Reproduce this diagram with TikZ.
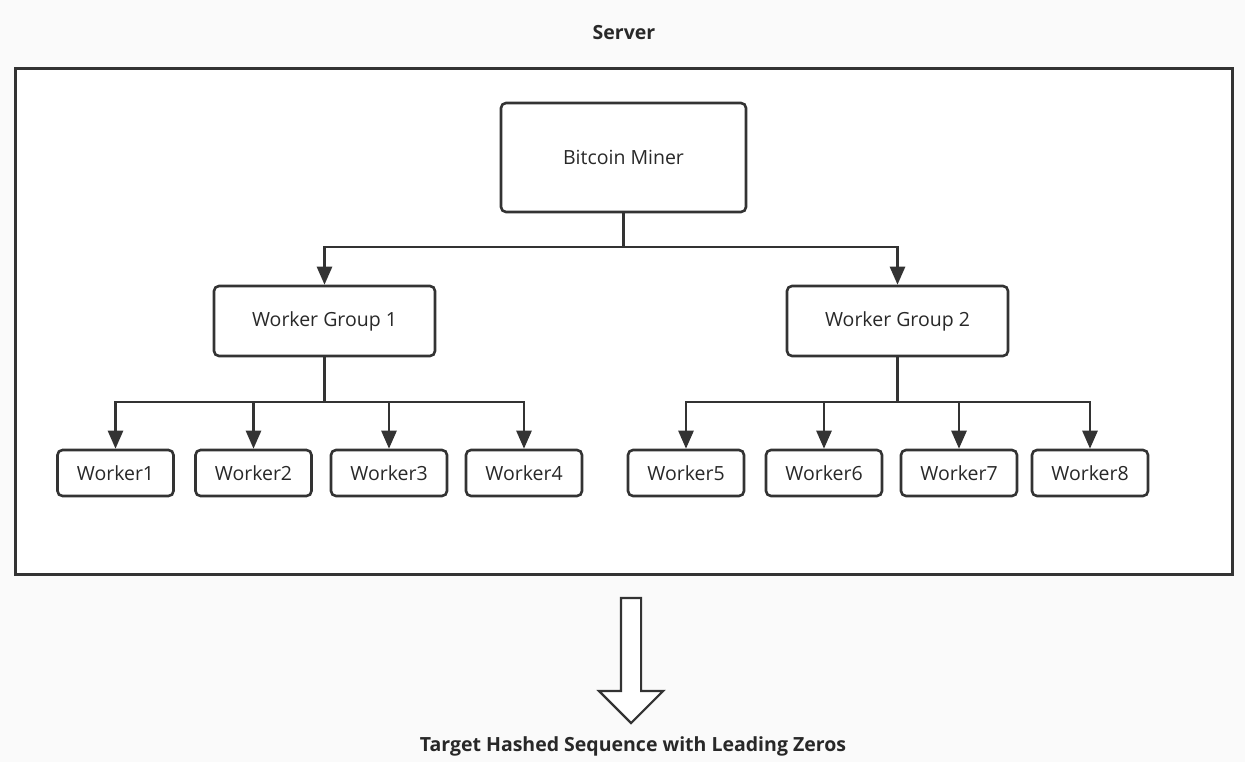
\documentclass[tikz,border=0pt]{standalone}
\usepackage{fontspec}
\setmainfont{Open Sans}
\usepackage{tikz}
\usetikzlibrary{arrows.meta, positioning, shapes.arrows}
\usepackage{xcolor}
\definecolor{cLine}{RGB}{51,51,51}
\definecolor{cPage}{RGB}{250,250,250}
\definecolor{cText}{RGB}{40,40,40}
\tikzset{
  basebox/.style={rectangle, rounded corners=5pt, draw=cLine, fill=white,
                  line width=2.6pt, align=center, text=cText,
                  font=\fontsize{19.5}{23}\selectfont},
  minernode/.style={basebox, minimum width=245pt, minimum height=109pt},
  groupnode/.style={basebox, minimum width=221pt, minimum height=70pt},
  workernode/.style={basebox, minimum width=116pt, minimum height=46pt},
  titlenode/.style={font=\bfseries\fontsize{19.5}{23}\selectfont, text=cText},
  arrow/.style={-{Triangle[length=18pt, width=15pt]}, line width=2.6pt,
                color=cLine},
  line/.style={line width=2.6pt, color=cLine},
  bigarrow/.style={single arrow, draw=cLine, fill=white, line width=2.2pt,
                   shape border rotate=270, minimum height=125pt,
                   minimum width=64pt, inner sep=0pt, text width=18pt,
                   single arrow head extend=22pt}
}
\begin{document}
\begin{tikzpicture}[x=1pt, y=-1pt]

  % Page
  \fill[cPage] (0,0) rectangle (1245,762);
  \useasboundingbox (0,0) rectangle (1245,762);

  % Server
  \node[titlenode] (srvlabel) at (624,33) {Server};
  \draw[line, line width=3pt, fill=white] (15,69) rectangle (1232,574);

  % Miner and groups
  \node[minernode] (miner) at (623.5,157.5) {Bitcoin Miner};
  \node[groupnode] (grp1) at (324.5,321) {Worker Group 1};
  \node[groupnode] (grp2) at (897.5,321) {Worker Group 2};

  % Workers
  \node[workernode] (w1) at (115.5,473) {Worker1};
  \node[workernode] (w2) at (253.5,473) {Worker2};
  \node[workernode] (w3) at (389,473) {Worker3};
  \node[workernode] (w4) at (524,473) {Worker4};
  \node[workernode] (w5) at (686,473) {Worker5};
  \node[workernode] (w6) at (824,473) {Worker6};
  \node[workernode] (w7) at (959,473) {Worker7};
  \node[workernode] (w8) at (1090,473) {Worker8};

  % Bus coordinates
  \coordinate (bus0) at (623.5,247);
  \coordinate (bus1) at (324.5,402);
  \coordinate (bus2) at (897.5,402);

  % Arrows
  \draw[line] (miner.south) -- (bus0);
  \draw[arrow] (bus0) -| (grp1.north);
  \draw[arrow] (bus0) -| (grp2.north);
  \draw[line] (grp1.south) -- (bus1);
  \draw[line] (grp2.south) -- (bus2);
  \draw[arrow] (bus1) -| (w1.north);
  \draw[arrow] (bus1) -| (w2.north);
  \draw[arrow] (bus1) -| (w3.north);
  \draw[arrow] (bus1) -| (w4.north);
  \draw[arrow] (bus2) -| (w5.north);
  \draw[arrow] (bus2) -| (w6.north);
  \draw[arrow] (bus2) -| (w7.north);
  \draw[arrow] (bus2) -| (w8.north);

  % Output
  \node[bigarrow] (outarrow) at (631,655.5) {};
  \node[titlenode] (target) at (633,746)
      {Target Hashed Sequence with Leading Zeros};

\end{tikzpicture}
\end{document}
